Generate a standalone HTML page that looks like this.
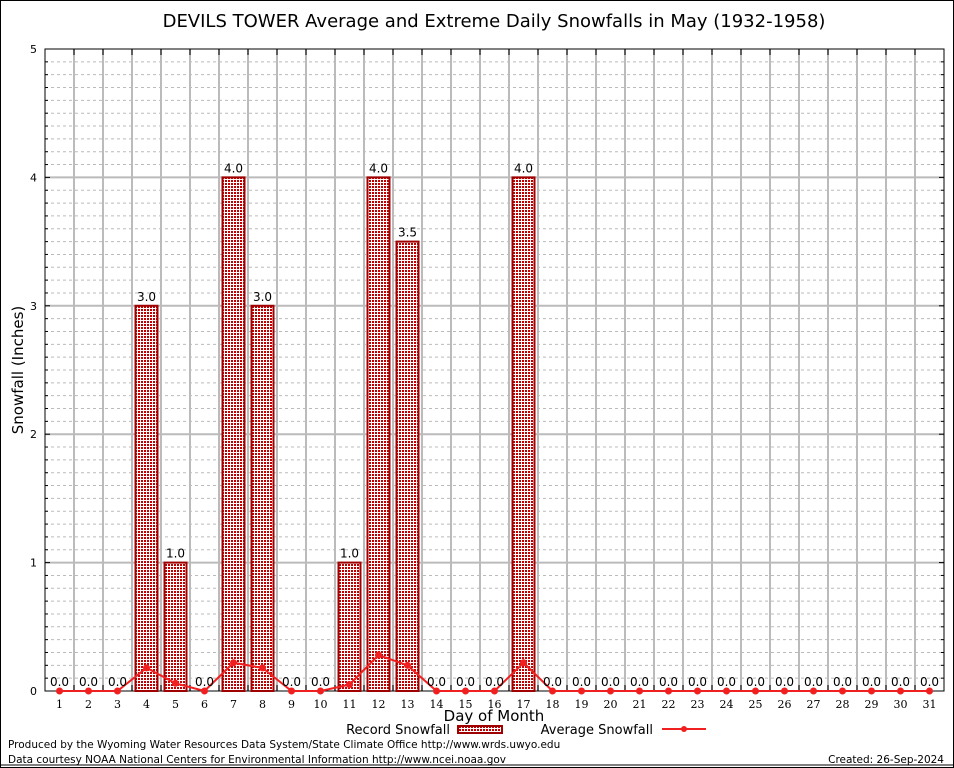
<!DOCTYPE html>
<html><head><meta charset="utf-8"><style>
body{margin:0;background:#fff;}
svg{display:block;font-family:"DejaVu Sans","Liberation Sans",sans-serif;}
</style></head><body>
<svg id="chart" width="954" height="768" viewBox="0 0 954 768">
<defs><pattern id="hatch" width="3" height="3" patternUnits="userSpaceOnUse"><rect width="3" height="3" fill="#fff"/><rect width="2" height="2" fill="#c00000"/></pattern></defs>
<rect x="0.5" y="0.5" width="953" height="767" fill="#fff" stroke="#000"/>
<text x="494" y="27" font-size="18" text-anchor="middle">DEVILS TOWER Average and Extreme Daily Snowfalls in May (1932-1958)</text>
<g id="grid"></g><g id="bars"></g><g id="avg"></g><g id="labels"></g>
<text transform="translate(23,370) rotate(-90)" font-size="15" text-anchor="middle">Snowfall (Inches)</text>
<text x="494" y="721" font-size="15" text-anchor="middle">Day of Month</text>
<g>
<text x="450" y="734" font-size="13" text-anchor="end">Record Snowfall</text>
<rect x="458" y="726" width="44" height="7" fill="url(#hatch)" stroke="#a00000" stroke-width="2"/>
<text x="653" y="734" font-size="13" text-anchor="end">Average Snowfall</text>
<line x1="662" y1="729" x2="706" y2="729" stroke="#f02020" stroke-width="2"/>
<circle cx="684" cy="729" r="3" fill="#f02020"/>
</g>
<text x="8" y="748" font-size="10.5">Produced by the Wyoming Water Resources Data System/State Climate Office http://www.wrds.uwyo.edu</text>
<text x="8" y="763" font-size="10.5">Data courtesy NOAA National Centers for Environmental Information http://www.ncei.noaa.gov</text>
<text x="944" y="763" font-size="10.5" text-anchor="end">Created: 26-Sep-2024</text>
<line x1="0" y1="765" x2="954" y2="765" stroke="#000"/>
</svg>
<script>
const days=[1,2,3,4,5,6,7,8,9,10,11,12,13,14,15,16,17,18,19,20,21,22,23,24,25,26,27,28,29,30,31];
const recordValues=[0,0,0,3.0,1.0,0,4.0,3.0,0,0,1.0,4.0,3.5,0,0,0,4.0,0,0,0,0,0,0,0,0,0,0,0,0,0,0];
const averageValues=[0,0,0,0.18,0.06,0,0.22,0.18,0,0,0.05,0.28,0.2,0,0,0,0.22,0,0,0,0,0,0,0,0,0,0,0,0,0,0];
const yTicks=[0,1,2,3,4,5];
const L=45,R=944,T=49,B=691,yMax=5;
const xs=d=>L+(d-0.5)*(R-L)/31;
const ys=v=>B-v*(B-T)/yMax;
const NS='http://www.w3.org/2000/svg';
function mk(p,t,a){const e=document.createElementNS(NS,t);for(const k in a)e.setAttribute(k,a[k]);p.appendChild(e);return e;}
const g=document.getElementById('grid');
for(let i=1;i<yMax*10;i++){if(i%10)mk(g,'line',{x1:L,x2:R,y1:ys(i/10),y2:ys(i/10),stroke:'#bbb','stroke-dasharray':'3,3'});}
yTicks.forEach(v=>{
 if(v>0&&v<yMax){const l=mk(g,'line',{x1:L,x2:R,y1:ys(v),y2:ys(v),stroke:'#bbb','stroke-width':2});
 }
 const t=mk(g,'text',{x:L-8,y:ys(v)+4,'font-size':11,'text-anchor':'end'});t.textContent=v;
 
 mk(g,'line',{x1:L,x2:L+5,y1:ys(v),y2:ys(v),stroke:'#000'});mk(g,'line',{x1:R-5,x2:R,y1:ys(v),y2:ys(v),stroke:'#000'});
});
for(let i=1;i<yMax*10;i++){if(i%10){mk(g,'line',{x1:L,x2:L+3,y1:ys(i/10),y2:ys(i/10),stroke:'#000'});mk(g,'line',{x1:R-3,x2:R,y1:ys(i/10),y2:ys(i/10),stroke:'#000'});}}
for(let d=1;d<days.length;d++){const x=xs(d+0.5);mk(g,'line',{x1:x,x2:x,y1:T,y2:B,stroke:'#bbb','stroke-width':2});
 mk(g,'line',{x1:x,x2:x,y1:T,y2:T+6,stroke:'#000'});mk(g,'line',{x1:x,x2:x,y1:B-6,y2:B,stroke:'#000'});}
days.forEach(d=>{const t=mk(g,'text',{x:xs(d),y:708,'font-size':11,'text-anchor':'middle','font-family':'DejaVu Serif,Liberation Serif,serif'});t.textContent=d;
 });
const fr=mk(g,'rect',{x:L,y:T,width:R-L,height:B-T,fill:'none',stroke:'#000'});

const bg=document.getElementById('bars'),lg=document.getElementById('labels');
days.forEach((d,i)=>{const v=recordValues[i];
 if(v>0){const r=mk(bg,'rect',{x:xs(d)-11,y:ys(v),width:22,height:B-ys(v),fill:'url(#hatch)',stroke:'#a00000','stroke-width':2});
 }
 const t=mk(lg,'text',{x:xs(d),y:ys(v)-5,'font-size':12,'text-anchor':'middle'});t.textContent=v.toFixed(1);
 });
const ag=document.getElementById('avg');
const pl=mk(ag,'polyline',{points:days.map((d,i)=>xs(d)+','+ys(averageValues[i])).join(' '),fill:'none',stroke:'#f02020','stroke-width':2});

days.forEach((d,i)=>{const c=mk(ag,'circle',{cx:xs(d),cy:ys(averageValues[i]),r:3.5,fill:'#f02020'});
 });
</script>
</body></html>
